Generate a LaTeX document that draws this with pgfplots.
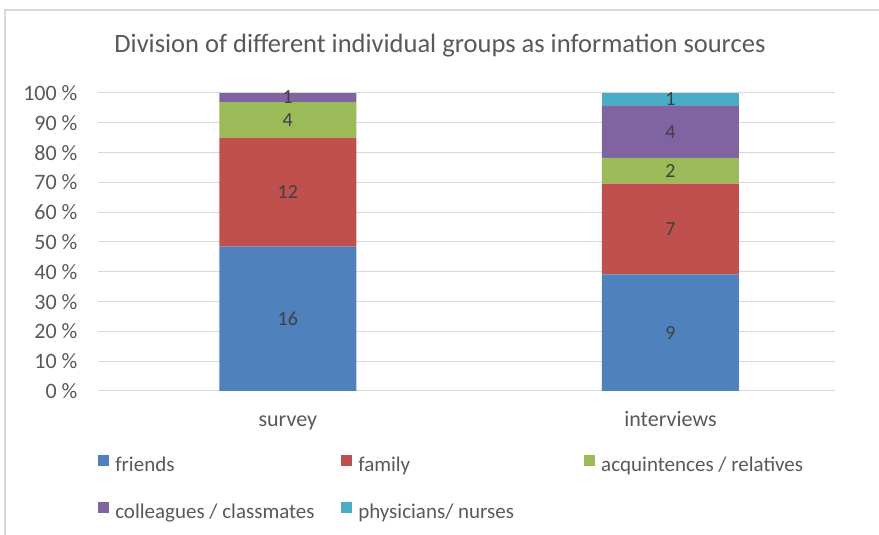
\documentclass[border=0pt]{standalone}
\usepackage{pgfplots}
\pgfplotsset{compat=1.18}
\usepackage{pgfplotstable}
\usepackage{fontspec}
\setmainfont{Carlito}
\definecolor{cfri}{HTML}{4F81BD}
\definecolor{cfam}{HTML}{C0504D}
\definecolor{cacq}{HTML}{9BBB59}
\definecolor{ccol}{HTML}{8064A2}
\definecolor{cphy}{HTML}{4BACC6}
\definecolor{txt}{HTML}{595959}
\definecolor{lbl}{HTML}{404040}
\definecolor{grd}{HTML}{D9D9D9}
\pgfplotstableread{
x friends family acq coll phys
0 48.48 36.36 12.12 3.03 0
1 39.13 30.43 8.70 17.39 4.35
}\data
\pgfplotstableread{
x y label
0 24.24 16
0 66.67 12
0 90.91 4
0 98.48 1
1 19.57 9
1 54.35 7
1 73.91 2
1 86.96 4
1 97.83 1
}\labels
\begin{document}
\begin{tikzpicture}[x=1pt,y=1pt]
\useasboundingbox (0,0) rectangle (879,535);
\fill[white] (0,0) rectangle (879,535);
\draw[black!15, line width=1.5pt] (5,0) -- (5,525) -- (879,525);
\node[font=\fontsize{26.5}{30}\selectfont, text=txt] at (440,489) {Division of different individual groups as information sources};
\begin{axis}[
  at={(98pt,144pt)}, anchor=south west,
  scale only axis, width=737pt, height=298pt,
  ybar stacked, bar width=137pt,
  xmin=-0.496, xmax=1.43, ymin=0, ymax=100,
  xtick={0,1}, xticklabels={survey,interviews},
  ytick={0,10,...,100},
  yticklabel={\pgfmathprintnumber{\tick} \%},
  /pgf/number format/assume math mode=true,
  ymajorgrids, grid style={grd, line width=1pt},
  axis line style={draw=none},
  major tick length=0pt,
  tick label style={font=\fontsize{22}{26}\selectfont, text=txt},
  yticklabel style={xshift=-17pt},
  xticklabel style={anchor=base, yshift=-36pt},
  legend columns=3,
  legend style={at={(-0.004,-0.208)}, anchor=north west, draw=none, fill=none,
    font=\fontsize{21}{25}\selectfont, text=txt,
    nodes={inner sep=0pt, text height=15pt, text depth=5pt},
    /tikz/column sep=0pt, /tikz/row sep=26pt},
  legend image code/.code={\fill[#1] (0pt,0pt) rectangle (11pt,11pt);},
]
\addplot[fill=cfri, draw=none] table[x=x, y=friends] {\data};
\addplot[fill=cfam, draw=none] table[x=x, y=family] {\data};
\addplot[fill=cacq, draw=none] table[x=x, y=acq] {\data};
\addplot[fill=ccol, draw=none] table[x=x, y=coll] {\data};
\addplot[fill=cphy, draw=none] table[x=x, y=phys] {\data};
\addlegendentry{\makebox[232pt][l]{\hspace{6pt}friends}}
\addlegendentry{\makebox[232pt][l]{\hspace{6pt}family}}
\addlegendentry{\makebox[232pt][l]{\hspace{6pt}acquintences / relatives}}
\addlegendentry{\makebox[232pt][l]{\hspace{6pt}colleagues / classmates}}
\addlegendentry{\makebox[232pt][l]{\hspace{6pt}physicians/ nurses}}
\end{axis}
\begin{axis}[
  at={(98pt,144pt)}, anchor=south west,
  scale only axis, width=737pt, height=298pt,
  xmin=-0.496, xmax=1.43, ymin=0, ymax=100,
  hide axis,
]
\addplot[only marks, mark=none, nodes near coords, point meta=explicit symbolic,
  nodes near coords align={center},
  every node near coord/.append style={font=\fontsize{20}{24}\selectfont, text=lbl}]
  table[x=x, y=y, meta=label] {\labels};
\end{axis}
\end{tikzpicture}
\end{document}
